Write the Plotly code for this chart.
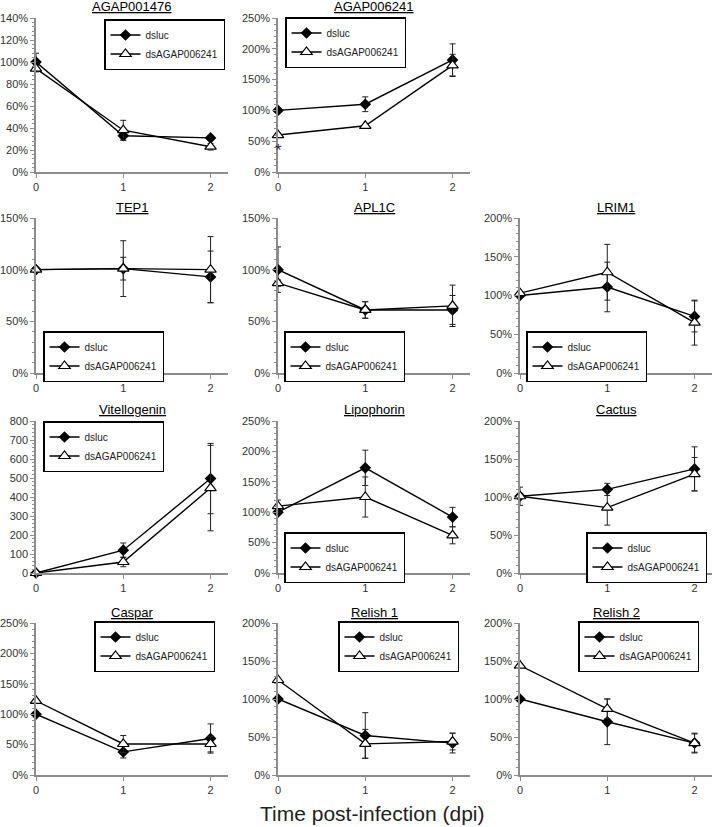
import plotly.graph_objects as go

# time points (dpi)
days = [0, 1, 2]

genes = ['AGAP001476', 'AGAP006241', 'TEP1', 'APL1C', 'LRIM1',
         'Vitellogenin', 'Lipophorin', 'Cactus', 'Caspar', 'Relish 1', 'Relish 2']

# relative expression (%), Vitellogenin in raw units
dsluc = {
    'AGAP001476': [100, 33, 31],
    'AGAP006241': [100, 110, 182],
    'TEP1': [100, 101, 93],
    'APL1C': [100, 61, 61],
    'LRIM1': [100, 111, 73],
    'Vitellogenin': [0, 120, 497],
    'Lipophorin': [100, 173, 92],
    'Cactus': [101, 110, 137],
    'Caspar': [100, 38, 60],
    'Relish 1': [100, 52, 42],
    'Relish 2': [100, 70, 42],
}
dsluc_err = {
    'AGAP001476': [8, 4, 2],
    'AGAP006241': [2, 12, 26],
    'TEP1': [2, 11, 25],
    'APL1C': [22, 8, 14],
    'LRIM1': [2, 32, 20],
    'Vitellogenin': [2, 38, 185],
    'Lipophorin': [4, 29, 16],
    'Cactus': [3, 8, 29],
    'Caspar': [2, 10, 24],
    'Relish 1': [2, 30, 13],
    'Relish 2': [2, 30, 13],
}
ds6241 = {
    'AGAP001476': [94, 38, 23],
    'AGAP006241': [60, 75, 173],
    'TEP1': [100, 101, 100],
    'APL1C': [87, 61, 65],
    'LRIM1': [103, 130, 65],
    'Vitellogenin': [0, 58, 447],
    'Lipophorin': [110, 125, 62],
    'Cactus': [101, 86, 130],
    'Caspar': [122, 51, 51],
    'Relish 1': [125, 41, 44],
    'Relish 2': [144, 87, 42],
}
ds6241_err = {
    'AGAP001476': [3, 9, 3],
    'AGAP006241': [2, 2, 18],
    'TEP1': [2, 27, 32],
    'APL1C': [3, 8, 20],
    'LRIM1': [2, 36, 29],
    'Vitellogenin': [2, 25, 225],
    'Lipophorin': [10, 33, 14],
    'Cactus': [12, 23, 22],
    'Caspar': [2, 14, 13],
    'Relish 1': [2, 19, 11],
    'Relish 2': [2, 13, 12],
}
y_max = {'AGAP001476': 140, 'AGAP006241': 250, 'TEP1': 150, 'APL1C': 150, 'LRIM1': 200,
         'Vitellogenin': 800, 'Lipophorin': 250, 'Cactus': 200, 'Caspar': 250,
         'Relish 1': 200, 'Relish 2': 200}
y_step = {'AGAP001476': 20, 'AGAP006241': 50, 'TEP1': 50, 'APL1C': 50, 'LRIM1': 50,
          'Vitellogenin': 100, 'Lipophorin': 50, 'Cactus': 50, 'Caspar': 50,
          'Relish 1': 50, 'Relish 2': 50}

W, H = 713, 827
cols = [(36, 228), (278, 470), (520, 712)]
rows = [(18, 172), (218, 373), (421, 573), (623, 775)]
cells = [(0, 0), (0, 1), (1, 0), (1, 1), (1, 2), (2, 0), (2, 1), (2, 2), (3, 0), (3, 1), (3, 2)]
# legend placement: px x (left edge), px y (top edge)
leg_pos = [(104, 19), (285, 17), (43, 331), (284, 331), (526, 331), (43, 421),
           (284, 532), (586, 532), (94, 621), (338, 621), (578, 621)]

fig = go.Figure()
layout = dict(width=W, height=H, margin=dict(l=0, r=0, t=0, b=0, autoexpand=False),
              plot_bgcolor='white', paper_bgcolor='white',
              font=dict(family='Liberation Sans, Arial', color='#333'),
              annotations=[])
axis_col = '#8c8c8c'

for i, g in enumerate(genes):
    n = i + 1
    r, c = cells[i]
    xa = 'x' if n == 1 else 'x%d' % n
    ya = 'y' if n == 1 else 'y%d' % n
    lg = 'legend' if n == 1 else 'legend%d' % n
    fig.add_trace(go.Scatter(
        x=days, y=dsluc[g], name='dsluc', xaxis=xa, yaxis=ya, legend=lg,
        mode='lines+markers', cliponaxis=False,
        line=dict(color='black', width=1.4),
        marker=dict(symbol='diamond', size=9, color='black'),
        error_y=dict(type='data', array=dsluc_err[g], color='#222', thickness=1, width=3)))
    fig.add_trace(go.Scatter(
        x=days, y=ds6241[g], name='dsAGAP006241', xaxis=xa, yaxis=ya, legend=lg,
        mode='lines+markers', cliponaxis=False,
        line=dict(color='black', width=1.4),
        marker=dict(symbol='triangle-up', size=10, color='white',
                    line=dict(color='black', width=1.2)),
        error_y=dict(type='data', array=ds6241_err[g], color='#222', thickness=1, width=3)))

    x0, x1 = cols[c]
    t0, t1 = rows[r]
    suffix = '' if g == 'Vitellogenin' else '%'
    layout['xaxis' if n == 1 else 'xaxis%d' % n] = dict(
        domain=[x0 / W, x1 / W], anchor=ya, range=[0, 2.2], tickvals=days,
        showline=True, linecolor=axis_col, linewidth=1.5, ticks='outside',
        ticklen=4, tickcolor=axis_col, showgrid=False, zeroline=False,
        tickfont=dict(size=11, color='#333'))
    layout['yaxis' if n == 1 else 'yaxis%d' % n] = dict(
        domain=[1 - t1 / H, 1 - t0 / H], anchor=xa, range=[0, y_max[g]],
        dtick=y_step[g], ticksuffix=suffix,
        showline=True, linecolor=axis_col, linewidth=1.5, ticks='outside',
        ticklen=4, tickcolor=axis_col, showgrid=False, zeroline=False,
        tickfont=dict(size=11, color='#333'),
        minor=dict(dtick=y_step[g] / 5, ticks='outside', ticklen=2, tickcolor=axis_col))
    lx, ly = leg_pos[i]
    layout[lg] = dict(x=lx / W, y=1 - ly / H, xanchor='left', yanchor='top',
                      bordercolor='black', borderwidth=1.5, bgcolor='white',
                      font=dict(size=10, color='#222'), itemwidth=30,
                      tracegroupgap=0)
    layout['annotations'].append(dict(
        text='<u>%s</u>' % g, xref='paper', yref='paper',
        x=(x0 + x1) / 2 / W, y=1 - (t0 - 11) / H, showarrow=False,
        xanchor='center', yanchor='middle',
        font=dict(size=13, color='black', family='Liberation Sans, Arial', weight='normal')))

# significance mark
layout['annotations'].append(dict(text='*', xref='x2', yref='y2', x=0, y=35,
                                  showarrow=False, font=dict(size=17, color='#333')))
layout['annotations'].append(dict(
    text='Time post-infection (dpi)', xref='paper', yref='paper',
    x=372 / W, y=1 - 813 / H, showarrow=False, xanchor='center', yanchor='middle',
    font=dict(size=21, color='#222')))

fig.update_layout(**layout)
# drop the default page margin so the figure sits at the window's top-left corner
fig.write_html("out.html", config={'displayModeBar': False},
               post_script="document.body.style.margin='0';")
